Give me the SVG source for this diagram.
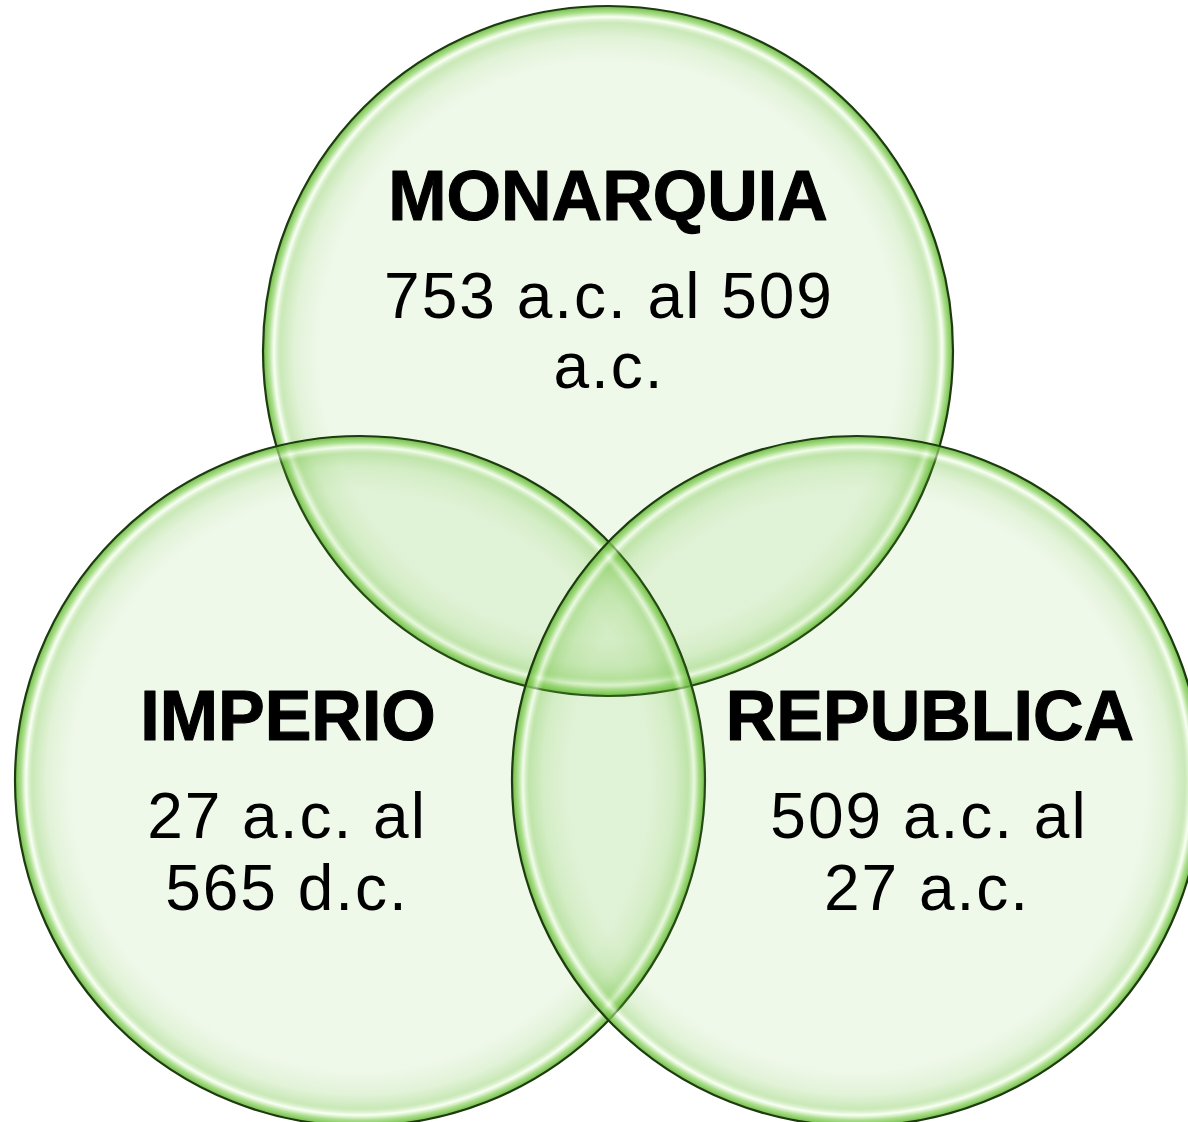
<svg xmlns="http://www.w3.org/2000/svg" width="1188" height="1122" viewBox="0 0 1188 1122">
<style>
.c{fill:url(#g);stroke:#1d3a10;stroke-width:2.2}
.t{font-family:"Liberation Sans",Arial,sans-serif;fill:#000;text-anchor:middle}
.b{font-weight:bold;font-size:70px;stroke:#000;stroke-width:1.1;stroke-linejoin:round}
.r{font-size:64px;letter-spacing:2px}
</style>
<defs>
<radialGradient id="g" cx="50%" cy="50%" r="50%">
<stop offset="0" stop-color="#6cc13a" stop-opacity="0.11"/>
<stop offset="0.84" stop-color="#6cc13a" stop-opacity="0.11"/>
<stop offset="0.91" stop-color="#6cc13a" stop-opacity="0.2"/>
<stop offset="0.95" stop-color="#6cc13a" stop-opacity="0.36"/>
<stop offset="0.968" stop-color="#f4ffec" stop-opacity="0.55"/>
<stop offset="0.982" stop-color="#8fd365" stop-opacity="0.7"/>
<stop offset="1" stop-color="#5cb52c" stop-opacity="0.9"/>
</radialGradient>
</defs>
<rect width="1188" height="1122" fill="#fff"/>
<g id="connectors"></g>
<g id="monarquia">
<circle class="c" cx="608" cy="351" r="345"/>
</g>
<g id="imperio">
<circle class="c" cx="360" cy="781" r="345"/>
</g>
<g id="republica">
<circle class="c" cx="857" cy="781" r="345"/>
</g>
<g id="labels">
<text class="t b" x="608" y="220">MONARQUIA</text>
<text class="t r" x="609" y="318">753 a.c. al 509</text>
<text class="t r" x="609" y="388">a.c.</text>
<text class="t b" x="288" y="740">IMPERIO</text>
<text class="t r" x="287" y="838">27 a.c. al</text>
<text class="t r" x="287" y="910">565 d.c.</text>
<text class="t b" x="930" y="740">REPUBLICA</text>
<text class="t r" x="929" y="838">509 a.c. al</text>
<text class="t r" x="927" y="910">27 a.c.</text>
</g>
</svg>
